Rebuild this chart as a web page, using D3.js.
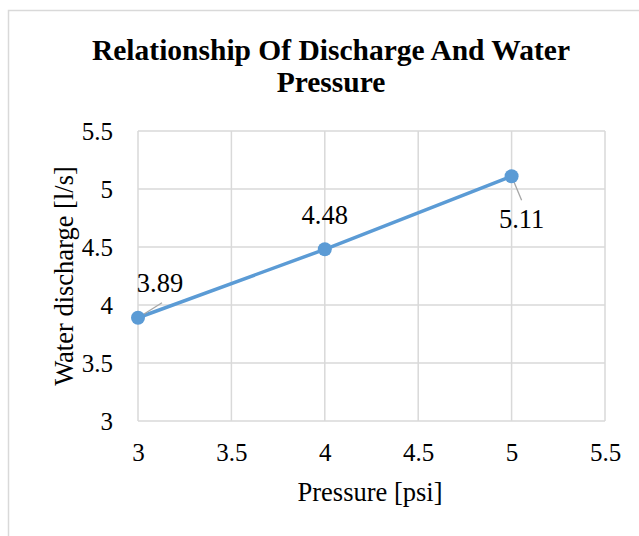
<!DOCTYPE html>
<html><head><meta charset="utf-8">
<script src="https://cdn.jsdelivr.net/npm/d3@7"></script>
<style>body{margin:0;background:#fff}svg{display:block}</style>
</head><body>
<svg id="c" width="639" height="536"></svg>
<script>
const pressure = [3, 4, 5];
const discharge = [3.89, 4.48, 5.11];
const labels = ["3.89", "4.48", "5.11"];
const xTicks = [3, 3.5, 4, 4.5, 5, 5.5];
const yTicks = [3, 3.5, 4, 4.5, 5, 5.5];
const title = ["Relationship Of Discharge And Water", "Pressure"];

const svg = d3.select("#c");
const font = "'Liberation Serif','Times New Roman',serif";
svg.append("rect").attr("x", 8.5).attr("y", 10.5).attr("width", 700).attr("height", 600)
  .attr("fill", "#fff").attr("stroke", "#d9d9d9").attr("stroke-width", 1.5);

const x = d3.scaleLinear().domain([3, 5.5]).range([138, 605]);
const y = d3.scaleLinear().domain([3, 5.5]).range([421, 131]);

const g = svg.append("g");
g.selectAll(".vg").data(xTicks).join("line")
  .attr("x1", d => x(d)).attr("x2", d => x(d)).attr("y1", y(5.5)).attr("y2", y(3))
  .attr("stroke", "#d9d9d9").attr("stroke-width", 1.5);
g.selectAll(".hg").data(yTicks).join("line")
  .attr("y1", d => y(d)).attr("y2", d => y(d)).attr("x1", x(3)).attr("x2", x(5.5))
  .attr("stroke", "#d9d9d9").attr("stroke-width", 1.5);

const xa = svg.append("g").attr("transform", `translate(0,${y(3)})`)
  .call(d3.axisBottom(x).tickValues(xTicks).tickSize(0).tickPadding(22).tickFormat(d3.format("")));
xa.select(".domain").remove();
xa.attr("font-family", font).attr("font-size", 25);
xa.selectAll("text").attr("fill", "#000");

const ya = svg.append("g").attr("transform", `translate(${x(3)},0)`)
  .call(d3.axisLeft(y).tickValues(yTicks).tickSize(0).tickPadding(25).tickFormat(d3.format("")));
ya.select(".domain").remove();
ya.attr("font-family", font).attr("font-size", 25);
ya.selectAll("text").attr("fill", "#000");

const pts = pressure.map((p, i) => [p, discharge[i]]);
svg.append("path").datum(pts)
  .attr("d", d3.line().x(d => x(d[0])).y(d => y(d[1])))
  .attr("fill", "none").attr("stroke", "#5B9BD5").attr("stroke-width", 3.5);

// leader lines
svg.append("line").attr("x1", x(3)).attr("y1", y(3.89)).attr("x2", x(3) + 24).attr("y2", y(3.89) - 15)
  .attr("stroke", "#a6a6a6").attr("stroke-width", 1.3);
svg.append("line").attr("x1", x(5)).attr("y1", y(5.11)).attr("x2", x(5) + 10).attr("y2", y(5.11) + 24)
  .attr("stroke", "#a6a6a6").attr("stroke-width", 1.3);

svg.selectAll(".pt").data(pts).join("circle")
  .attr("cx", d => x(d[0])).attr("cy", d => y(d[1])).attr("r", 7).attr("fill", "#5B9BD5");

const lblOff = [[22, -26], [0, -25], [10, 52]];
svg.selectAll(".lbl").data(pts).join("text")
  .attr("x", (d, i) => x(d[0]) + lblOff[i][0]).attr("y", (d, i) => y(d[1]) + lblOff[i][1])
  .attr("text-anchor", "middle").attr("font-family", font).attr("font-size", 26.5).attr("fill", "#000")
  .text((d, i) => labels[i]);

svg.selectAll(".title").data(title).join("text")
  .attr("x", 331).attr("y", (d, i) => 60 + i * 32)
  .attr("text-anchor", "middle").attr("font-family", font).attr("font-size", 29.5)
  .attr("font-weight", "bold").attr("fill", "#000").text(d => d);

svg.append("text").attr("x", 370).attr("y", 501).attr("text-anchor", "middle")
  .attr("font-family", font).attr("font-size", 26.5).attr("fill", "#000").text("Pressure [psi]");
svg.append("text").attr("transform", `translate(73,276) rotate(-90)`)
  .attr("text-anchor", "middle").attr("font-family", font).attr("font-size", 26.5).attr("fill", "#000")
  .text("Water discharge [l/s]");
</script>
</body></html>
